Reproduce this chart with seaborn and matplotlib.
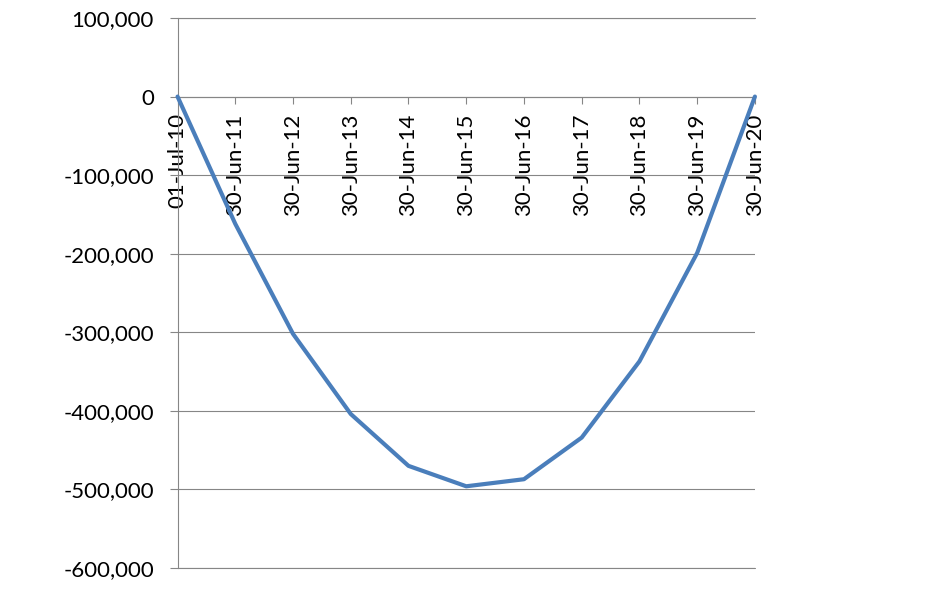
import matplotlib
matplotlib.use("Agg")
import matplotlib.pyplot as plt
import seaborn as sns
import pandas as pd
from matplotlib.ticker import FuncFormatter, MultipleLocator

dates = ["01-Jul-10", "30-Jun-11", "30-Jun-12", "30-Jun-13", "30-Jun-14", "30-Jun-15",
         "30-Jun-16", "30-Jun-17", "30-Jun-18", "30-Jun-19", "30-Jun-20"]
values = [0, -162000, -302000, -404000, -470000, -496000, -487000, -434000, -337000, -199000, 0]

sns.set_theme(style="white")
plt.rcParams['font.family'] = ['Lato', 'DejaVu Sans']

fig = plt.figure(figsize=(9.32, 6.06), dpi=100)
ax = fig.add_axes([0.1905, 0.0627, 0.6195, 0.9076])

df = pd.DataFrame({"idx": list(range(len(dates))), "value": values})
sns.lineplot(data=df, x="idx", y="value", color="#4A7EBB", linewidth=3.0, ax=ax, zorder=3)
for ln in ax.lines:
    ln.set_clip_on(False)
    ln.set_solid_joinstyle("round")

ax.set_xlim(0, 10)
ax.set_ylim(-600000, 100000)
ax.yaxis.set_major_locator(MultipleLocator(100000))
ax.yaxis.set_major_formatter(FuncFormatter(lambda v, p: f"{v:,.0f}"))

ax.grid(axis='y', color='#868686', linewidth=0.8)
ax.grid(axis='x', visible=False)
ax.set_axisbelow(True)
ax.axhline(-600000, color='#868686', linewidth=0.8, clip_on=False, zorder=1)
ax.axhline(100000, color='#868686', linewidth=0.8, clip_on=False, zorder=1)

for s in ["top", "right"]:
    ax.spines[s].set_visible(False)
ax.spines["left"].set_color('#868686')
ax.spines["left"].set_linewidth(0.8)
ax.spines["bottom"].set_position(('data', 0))
ax.spines["bottom"].set_color('#868686')
ax.spines["bottom"].set_linewidth(0.8)

ax.set_xticks(list(range(len(dates))))
ax.set_xticklabels(dates, rotation=90, ha='center', va='top')
ax.tick_params(axis='x', bottom=True, direction='out', length=5, width=0.8, color='#868686',
               pad=7, labelsize=16, labelcolor='#000000')
ax.tick_params(axis='y', left=True, direction='out', length=6, width=0.8, color='#868686',
               pad=11, labelsize=16, labelcolor='#000000')
ax.set_xlabel('')
ax.set_ylabel('')

fig.savefig("out.png", dpi=100, facecolor='white')
